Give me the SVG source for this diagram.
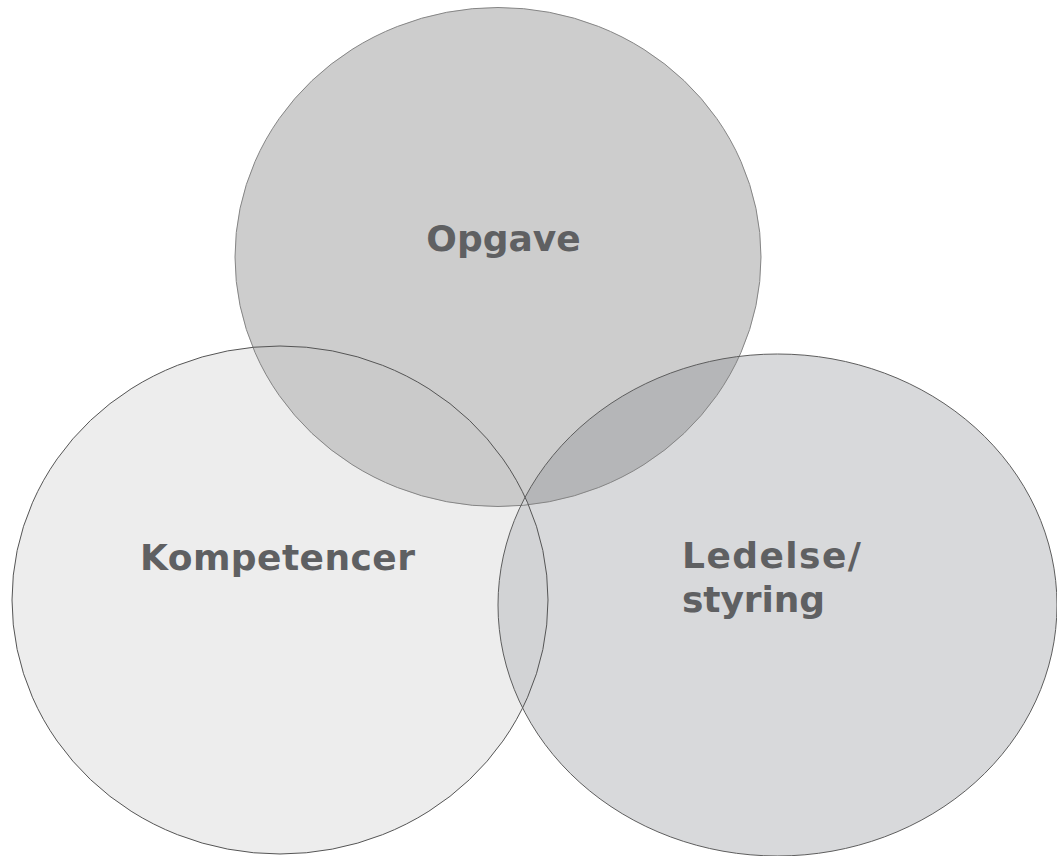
<svg xmlns="http://www.w3.org/2000/svg" width="1057" height="856" viewBox="0 0 1057 856">
<style>
.lbl{font-family:"DejaVu Sans","Verdana",sans-serif;font-weight:bold;font-size:36px;fill:#5f6062}
.edge{fill:none;stroke-width:1}
</style>
<defs>
<clipPath id="cL"><ellipse cx="280" cy="600" rx="268" ry="254"/></clipPath>
<clipPath id="cR"><ellipse cx="777.5" cy="605" rx="279.5" ry="251"/></clipPath>
</defs>
<rect width="1057" height="856" fill="#ffffff"/>
<g id="fills">
<ellipse cx="280" cy="600" rx="268" ry="254" fill="#ededed"/>
<ellipse cx="777.5" cy="605" rx="279.5" ry="251" fill="#d8d9db"/>
<ellipse cx="498" cy="257" rx="263" ry="249.5" fill="#cdcdcd"/>
<ellipse cx="498" cy="257" rx="263" ry="249.5" fill="#cacaca" clip-path="url(#cL)"/>
<ellipse cx="498" cy="257" rx="263" ry="249.5" fill="#b5b6b8" clip-path="url(#cR)"/>
<ellipse cx="280" cy="600" rx="268" ry="254" fill="#d2d3d5" clip-path="url(#cR)"/>
</g>
<g id="node-opgave">
<ellipse class="edge" cx="498" cy="257" rx="263" ry="249.5" stroke="#858585"/>
<text class="lbl" x="503.5" y="251" text-anchor="middle">Opgave</text>
</g>
<g id="node-kompetencer">
<ellipse class="edge" cx="280" cy="600" rx="268" ry="254" stroke="#555555"/>
<text class="lbl" x="140" y="570" textLength="275" lengthAdjust="spacing">Kompetencer</text>
</g>
<g id="node-ledelse">
<ellipse class="edge" cx="777.5" cy="605" rx="279.5" ry="251" stroke="#5e5e5e"/>
<text class="lbl" x="682" y="568" textLength="179" lengthAdjust="spacing">Ledelse/</text>
<text class="lbl" x="682" y="612" textLength="143" lengthAdjust="spacing">styring</text>
</g>
<g id="connectors"></g>
</svg>
